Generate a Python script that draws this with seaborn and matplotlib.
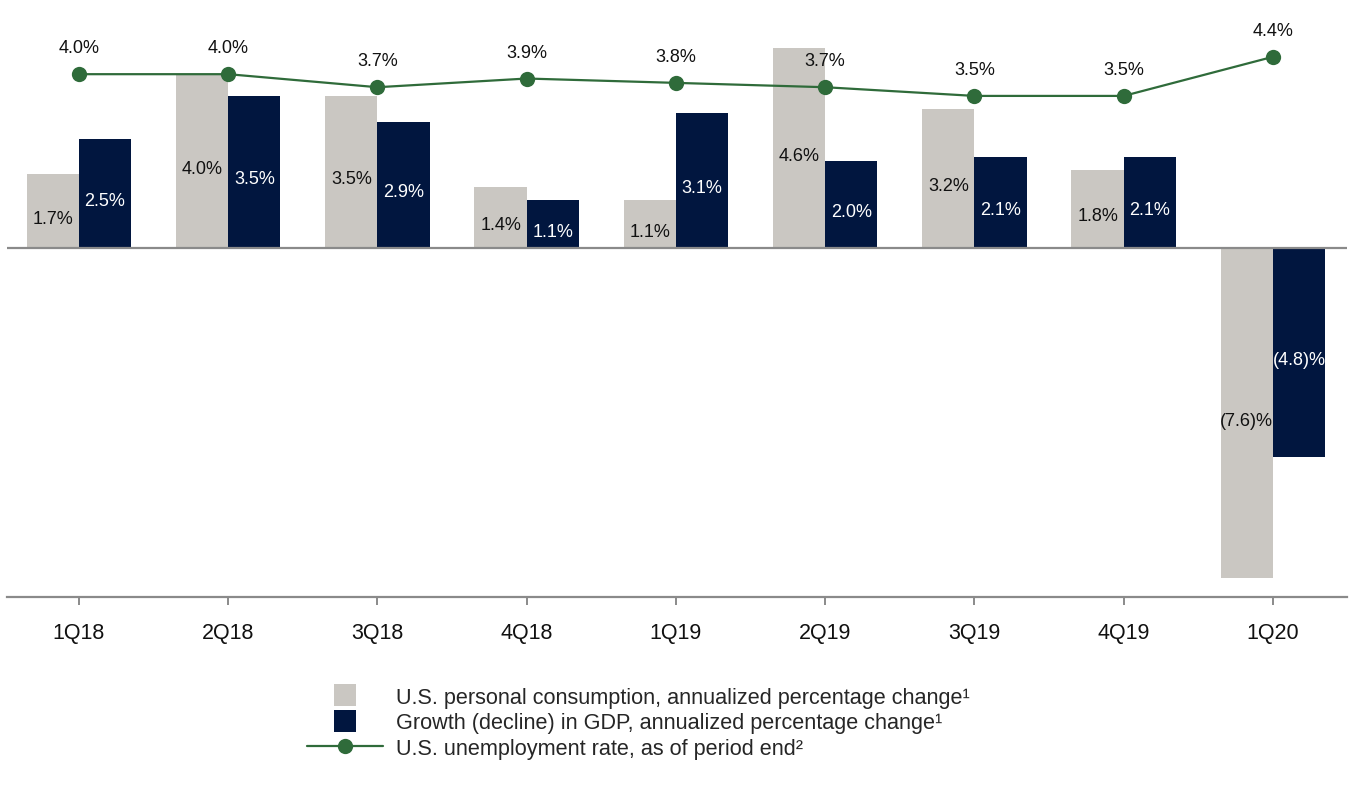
import numpy as np
import pandas as pd
import matplotlib
matplotlib.use("Agg")
import matplotlib.pyplot as plt
from matplotlib.lines import Line2D
import seaborn as sns

categories = ["1Q18", "2Q18", "3Q18", "4Q18", "1Q19", "2Q19", "3Q19", "4Q19", "1Q20"]
consumption = [1.7, 4.0, 3.5, 1.4, 1.1, 4.6, 3.2, 1.8, -7.6]
gdp = [2.5, 3.5, 2.9, 1.1, 3.1, 2.0, 2.1, 2.1, -4.8]
unemployment = [4.0, 4.0, 3.7, 3.9, 3.8, 3.7, 3.5, 3.5, 4.4]

series_names = [
    "U.S. personal consumption, annualized percentage change\u00b9",
    "Growth (decline) in GDP, annualized percentage change\u00b9",
    "U.S. unemployment rate, as of period end\u00b2",
]

GRAY = "#CAC7C2"
NAVY = "#01163F"
GREEN = "#2F6B3A"
AXIS = "#8A8A8A"

sns.set_theme(style="white")
plt.rcParams["font.family"] = ["Liberation Sans", "DejaVu Sans"]

df = pd.DataFrame({
    "quarter": categories * 2,
    "value": consumption + gdp,
    "series": [series_names[0]] * len(categories) + [series_names[1]] * len(categories),
})

fig = plt.figure(figsize=(13.54, 8.12), dpi=100)
ax = fig.add_axes([7 / 1354, 1 - 598 / 812, 1340 / 1354, 598 / 812])

sns.barplot(data=df, x="quarter", y="value", hue="series", order=categories,
            hue_order=series_names[:2], palette=[GRAY, NAVY], width=0.7,
            saturation=1, legend=False, ax=ax, errorbar=None, linewidth=0)

sns.lineplot(x=np.arange(len(categories)), y=unemployment, color=GREEN, lw=1.6,
             marker="o", markersize=11, markeredgewidth=0, legend=False, ax=ax)

ax.set_xlim(-0.482, 8.496)
ax.set_ylim(-8.03, 5.73)

def fmt(v):
    return f"({abs(v):.1f})%" if v < 0 else f"{v:.1f}%"

text_colors = ["#111111", "white"]
for cont, vals, tc in zip(ax.containers, [consumption, gdp], text_colors):
    for patch, v in zip(cont.patches, vals):
        x = patch.get_x() + patch.get_width() / 2
        y = patch.get_y() + patch.get_height() / 2
        ax.annotate(fmt(v), (x, y), xytext=(0, -5), textcoords="offset points",
                    ha="center", va="center", fontsize=13, color=tc)

for i, v in enumerate(unemployment):
    ax.annotate(fmt(v), (i, v), xytext=(0, 19), textcoords="offset points",
                ha="center", va="center", fontsize=13, color="#111111")

ax.axhline(0, color=AXIS, lw=1.6, zorder=5)
for s in ["top", "right", "left"]:
    ax.spines[s].set_visible(False)
ax.spines["bottom"].set_color(AXIS)
ax.spines["bottom"].set_linewidth(1.6)
ax.set_yticks([])
ax.set_xticks(range(len(categories)))
ax.set_xticklabels(categories)
ax.tick_params(axis="x", bottom=True, length=6, width=1.4, color=AXIS, pad=12,
               labelsize=15.5, labelcolor="#111111")
ax.set_xlabel("")
ax.set_ylabel("")

handles = [
    Line2D([], [], marker="s", linestyle="none", markersize=15.5, color=GRAY, markeredgewidth=0),
    Line2D([], [], marker="s", linestyle="none", markersize=15.5, color=NAVY, markeredgewidth=0),
    Line2D([], [], marker="o", color=GREEN, lw=1.6, markersize=11, markeredgewidth=0),
]
fig.legend(handles, series_names, loc="upper left",
           bbox_to_anchor=(307 / 1354, 1 - 688 / 812), frameon=False,
           fontsize=15.6, handlelength=3.5, handletextpad=0.6, labelspacing=0.2,
           borderpad=0, borderaxespad=0)

fig.savefig("out.png", dpi=100)
